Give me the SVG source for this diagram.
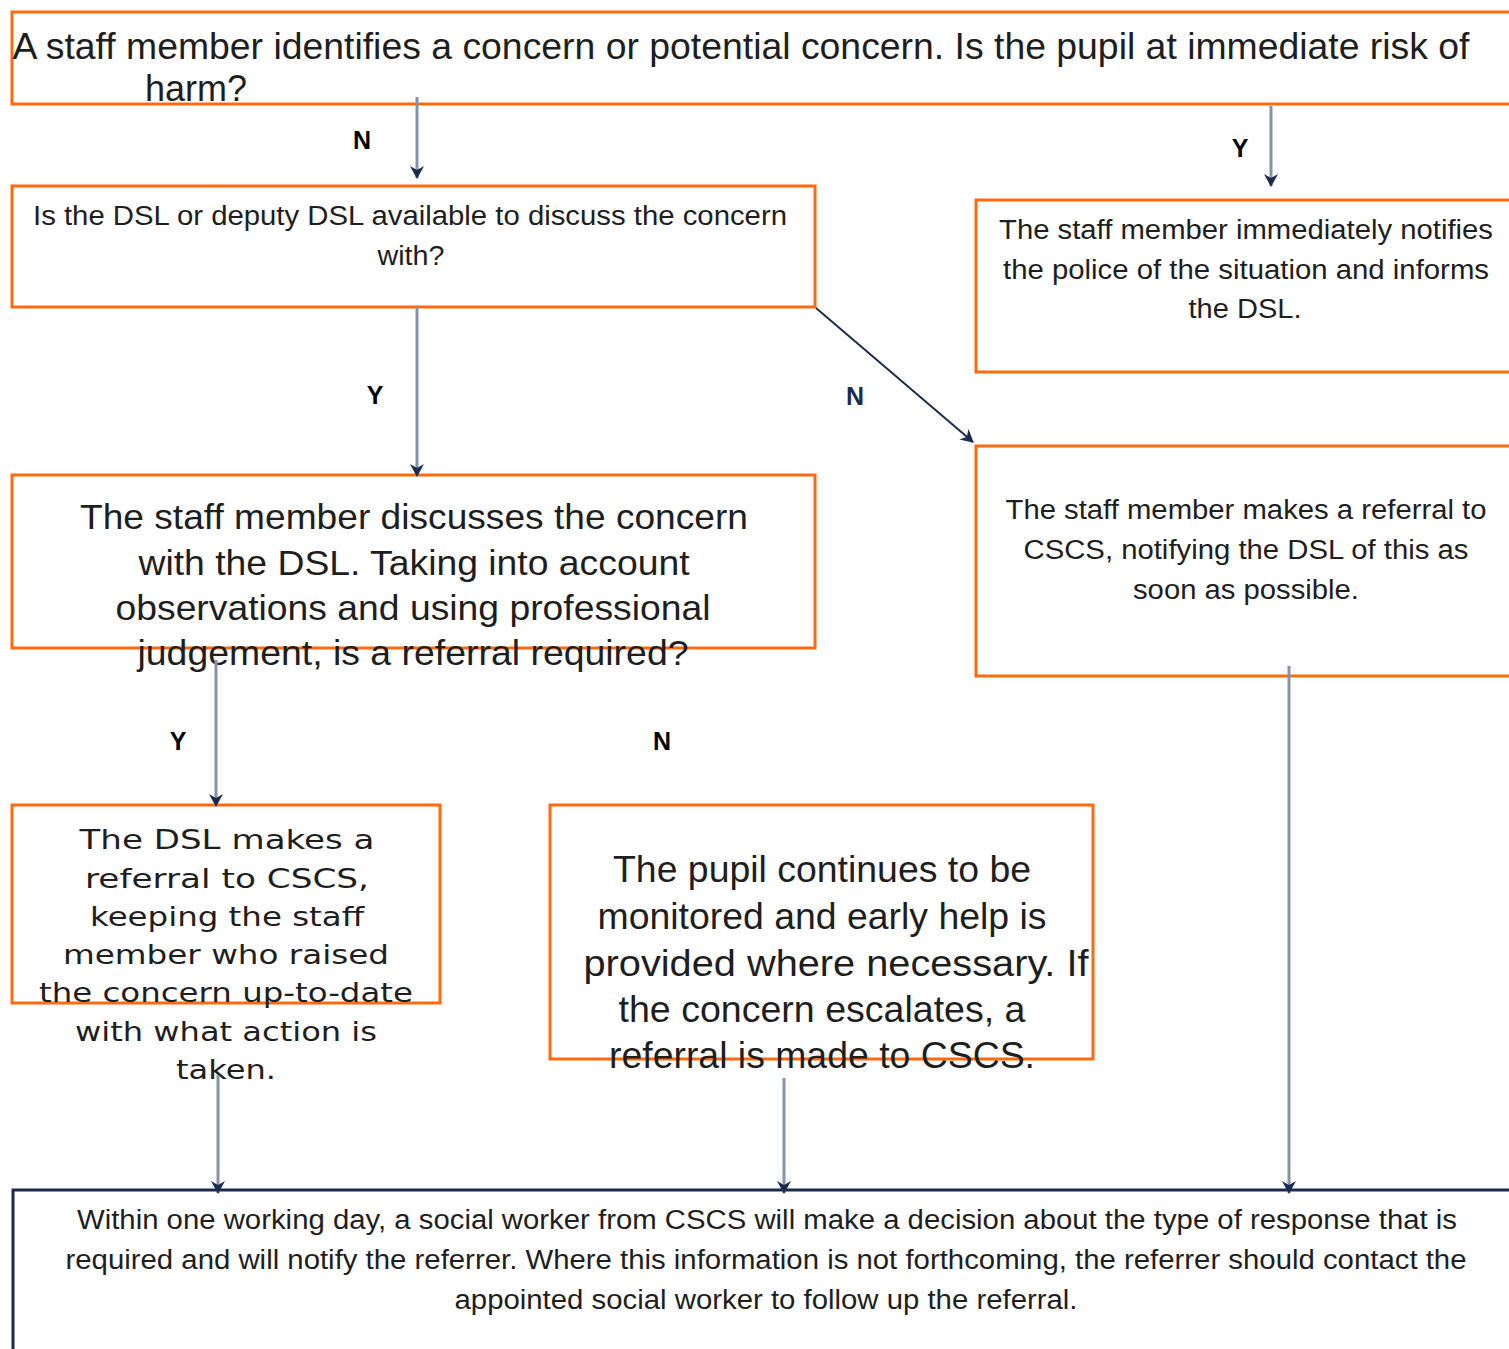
<svg xmlns="http://www.w3.org/2000/svg" width="1509" height="1349" viewBox="0 0 1509 1349">
<style>
.box{fill:#ffffff;stroke:#ff6a0d;stroke-width:3}
.nbox{fill:#ffffff;stroke:#1c2c4c;stroke-width:3}
.t{font-family:"Liberation Sans",Arial,sans-serif;fill:#1e1e1e;text-anchor:middle}
.v{font-family:"DejaVu Sans",Verdana,sans-serif;fill:#1e1e1e;text-anchor:middle}
.lbl{font-family:"Liberation Sans",Arial,sans-serif;font-weight:bold;font-size:25px;fill:#000;text-anchor:middle}
.conn{stroke:#8493a8;stroke-width:3;fill:none}
.diag{stroke:#1c2c4c;stroke-width:2;fill:none}
</style>
<defs>
<marker id="ah" markerUnits="userSpaceOnUse" markerWidth="16" markerHeight="16" refX="12" refY="7" orient="auto">
<path d="M0,0 L13,7 L0,14 L4,7 z" fill="#1c2c4c"/>
</marker>
</defs>
<rect width="1509" height="1349" fill="#ffffff"/>

<g id="n1">
<rect class="box" x="12" y="12" width="1510" height="92"/>
<text class="t" font-size="36" x="741" y="59" textLength="1457" lengthAdjust="spacingAndGlyphs">A staff member identifies a concern or potential concern. Is the pupil at immediate risk of</text>
<text class="t" font-size="36" x="196" y="101" textLength="102" lengthAdjust="spacingAndGlyphs">harm?</text>
</g>

<g id="n2">
<rect class="box" x="12" y="186" width="803" height="121"/>
<text class="t" font-size="27" x="410" y="225" textLength="754" lengthAdjust="spacingAndGlyphs">Is the DSL or deputy DSL available to discuss the concern</text>
<text class="t" font-size="27" x="411" y="265" textLength="67" lengthAdjust="spacingAndGlyphs">with?</text>
</g>

<g id="n3">
<rect class="box" x="976" y="200" width="540" height="172"/>
<text class="t" font-size="27" x="1246" y="239" textLength="494" lengthAdjust="spacingAndGlyphs">The staff member immediately notifies</text>
<text class="t" font-size="27" x="1246" y="279" textLength="486" lengthAdjust="spacingAndGlyphs">the police of the situation and informs</text>
<text class="t" font-size="27" x="1245" y="318" textLength="113" lengthAdjust="spacingAndGlyphs">the DSL.</text>
</g>

<g id="n4">
<rect class="box" x="12" y="475" width="803" height="173"/>
<text class="t" font-size="35" x="414" y="529" textLength="668" lengthAdjust="spacingAndGlyphs">The staff member discusses the concern</text>
<text class="t" font-size="35" x="414" y="575" textLength="551" lengthAdjust="spacingAndGlyphs">with the DSL. Taking into account</text>
<text class="t" font-size="35" x="413" y="620" textLength="595" lengthAdjust="spacingAndGlyphs">observations and using professional</text>
<text class="t" font-size="35" x="413" y="665" textLength="551" lengthAdjust="spacingAndGlyphs">judgement, is a referral required?</text>
</g>

<g id="n5">
<rect class="box" x="976" y="446" width="540" height="230"/>
<text class="t" font-size="27" x="1246" y="519" textLength="481" lengthAdjust="spacingAndGlyphs">The staff member makes a referral to</text>
<text class="t" font-size="27" x="1246" y="559" textLength="445" lengthAdjust="spacingAndGlyphs">CSCS, notifying the DSL of this as</text>
<text class="t" font-size="27" x="1246" y="599" textLength="226" lengthAdjust="spacingAndGlyphs">soon as possible.</text>
</g>

<g id="n6">
<rect class="box" x="12" y="805" width="428" height="198"/>
<text class="v" font-size="26" x="227" y="849" textLength="295" lengthAdjust="spacingAndGlyphs">The DSL makes a</text>
<text class="v" font-size="26" x="227" y="888" textLength="284" lengthAdjust="spacingAndGlyphs">referral to CSCS,</text>
<text class="v" font-size="26" x="227" y="926" textLength="274" lengthAdjust="spacingAndGlyphs">keeping the staff</text>
<text class="v" font-size="26" x="226" y="964" textLength="326" lengthAdjust="spacingAndGlyphs">member who raised</text>
<text class="v" font-size="26" x="226" y="1002" textLength="374" lengthAdjust="spacingAndGlyphs">the concern up-to-date</text>
<text class="v" font-size="26" x="226" y="1041" textLength="302" lengthAdjust="spacingAndGlyphs">with what action is</text>
<text class="v" font-size="26" x="226" y="1079" textLength="100" lengthAdjust="spacingAndGlyphs">taken.</text>
</g>

<g id="n7">
<rect class="box" x="550" y="805" width="543" height="254"/>
<text class="t" font-size="36" x="822" y="882" textLength="418" lengthAdjust="spacingAndGlyphs">The pupil continues to be</text>
<text class="t" font-size="36" x="822" y="929" textLength="449" lengthAdjust="spacingAndGlyphs">monitored and early help is</text>
<text class="t" font-size="36" x="836" y="976" textLength="505" lengthAdjust="spacingAndGlyphs">provided where necessary. If</text>
<text class="t" font-size="36" x="822" y="1022" textLength="407" lengthAdjust="spacingAndGlyphs">the concern escalates, a</text>
<text class="t" font-size="36" x="822" y="1068" textLength="426" lengthAdjust="spacingAndGlyphs">referral is made to CSCS.</text>
</g>

<g id="n8">
<rect class="nbox" x="13" y="1190" width="1510" height="200"/>
<text class="t" font-size="27" x="767" y="1229" textLength="1380" lengthAdjust="spacingAndGlyphs">Within one working day, a social worker from CSCS will make a decision about the type of response that is</text>
<text class="t" font-size="27" x="766" y="1269" textLength="1401" lengthAdjust="spacingAndGlyphs">required and will notify the referrer. Where this information is not forthcoming, the referrer should contact the</text>
<text class="t" font-size="27" x="766" y="1309" textLength="623" lengthAdjust="spacingAndGlyphs">appointed social worker to follow up the referral.</text>
</g>

<g id="connectors">
<line class="conn" x1="417" y1="97" x2="417" y2="178" marker-end="url(#ah)"/>
<line class="conn" x1="1271" y1="106" x2="1271" y2="186" marker-end="url(#ah)"/>
<line class="conn" x1="417" y1="307" x2="417" y2="476" marker-end="url(#ah)"/>
<line class="diag" x1="816" y1="308" x2="973" y2="442" marker-end="url(#ah)"/>
<line class="conn" x1="216" y1="660" x2="216" y2="806" marker-end="url(#ah)"/>
<line class="conn" x1="218" y1="1075" x2="218" y2="1193" marker-end="url(#ah)"/>
<line class="conn" x1="784" y1="1078" x2="784" y2="1193" marker-end="url(#ah)"/>
<line class="conn" x1="1289" y1="666" x2="1289" y2="1193" marker-end="url(#ah)"/>
<text class="lbl" x="362" y="149">N</text>
<text class="lbl" x="1240" y="157">Y</text>
<text class="lbl" x="375" y="404">Y</text>
<text class="lbl" x="855" y="405" fill="#1c2c4c" style="fill:#1c2c4c">N</text>
<text class="lbl" x="178" y="750">Y</text>
<text class="lbl" x="662" y="750">N</text>
</g>
</svg>
